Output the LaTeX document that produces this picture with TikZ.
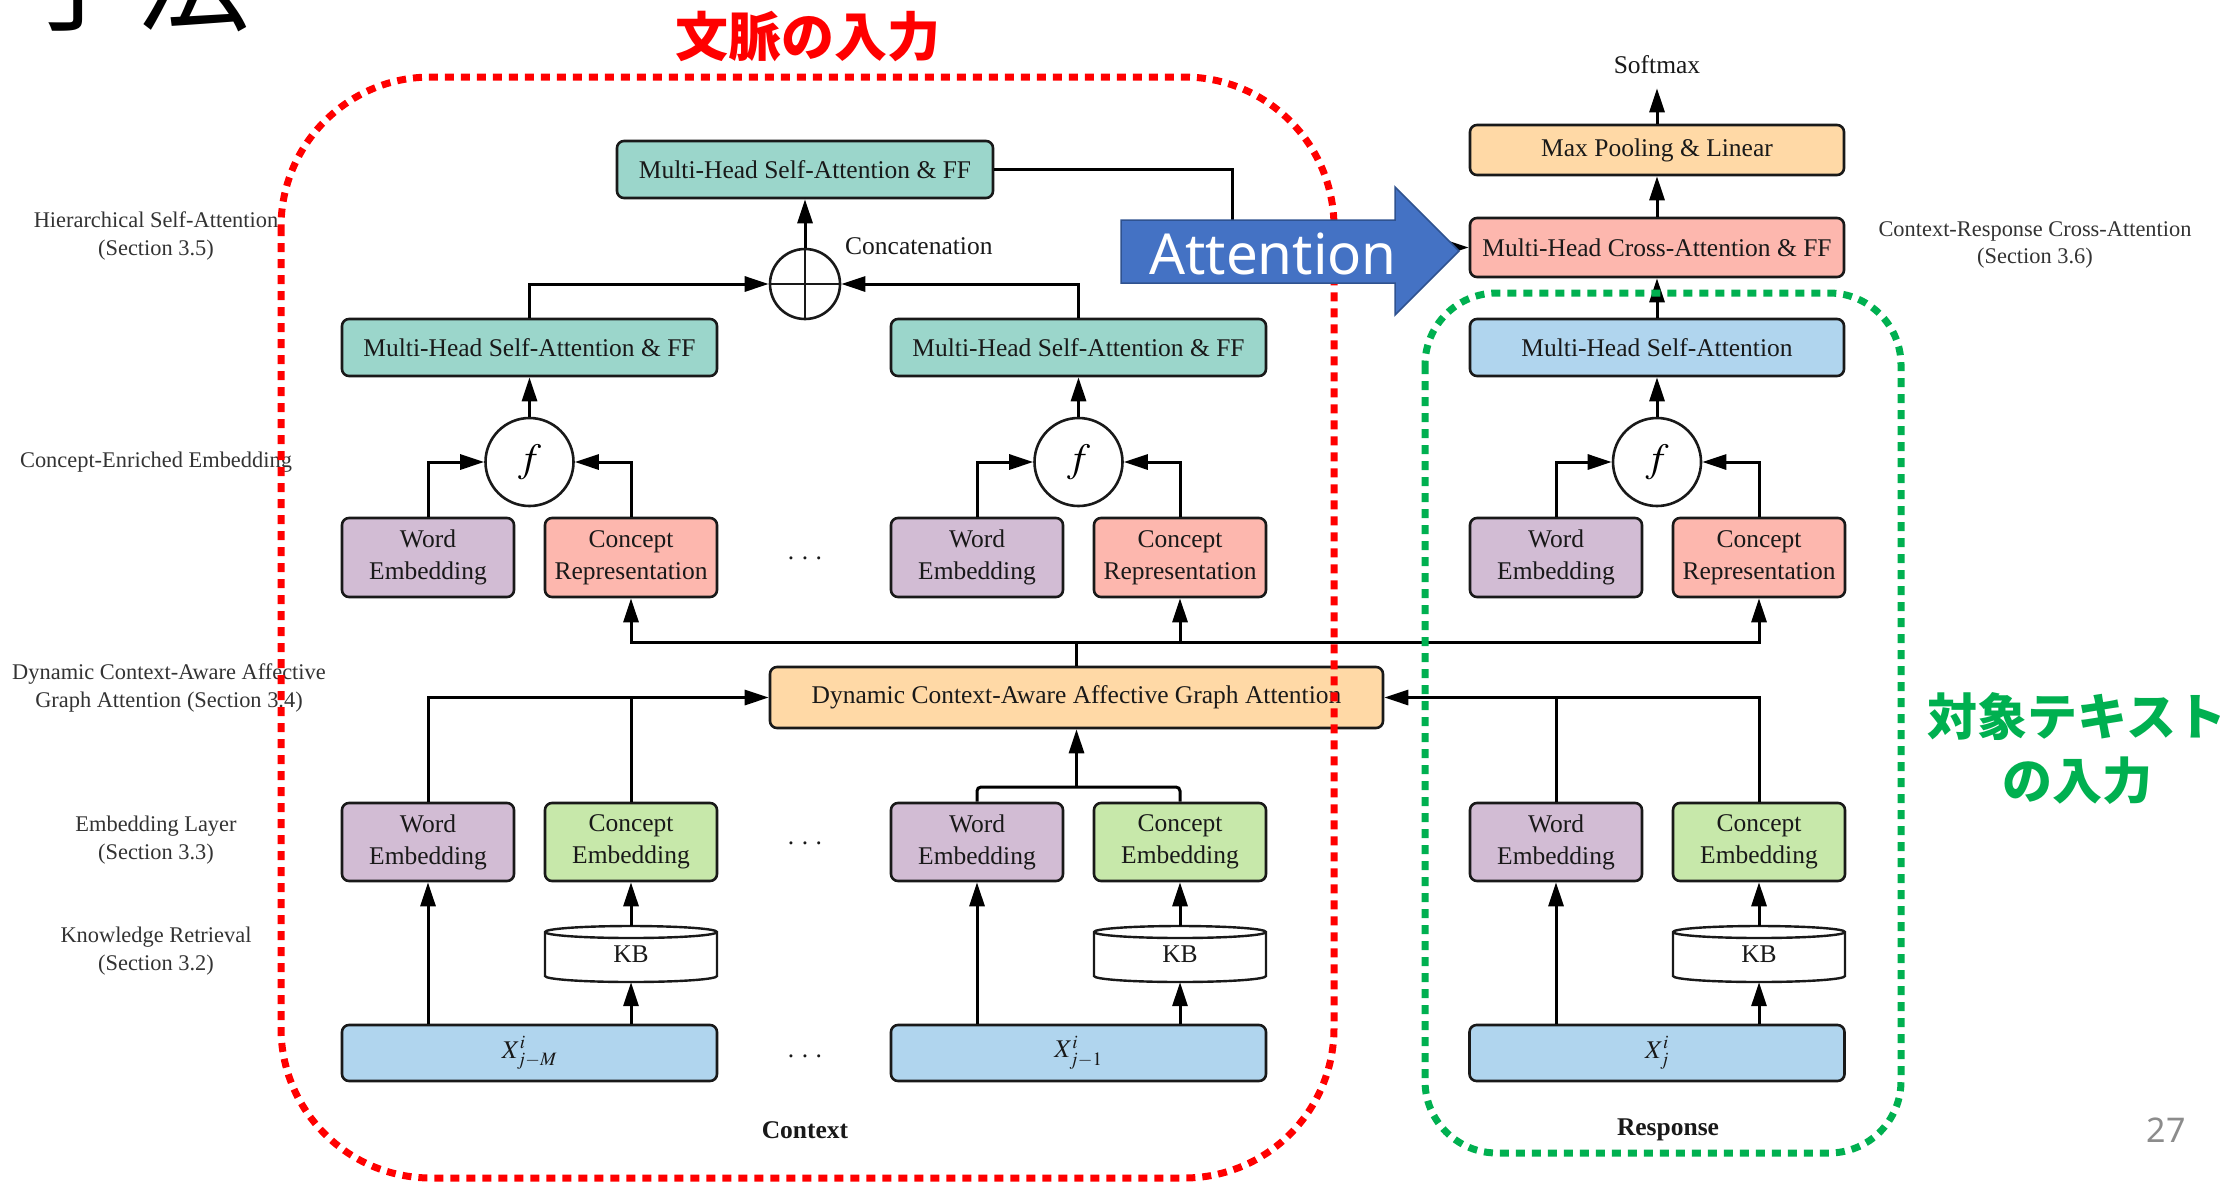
\documentclass[tikz,border=0pt]{standalone}
\usepackage{mathptmx}
\usepackage[no-math]{fontspec}
\setmainfont{Liberation Serif}
\newfontfamily\jpfont{Noto Sans CJK JP}
\newfontfamily\uisans{Noto Sans}
\usetikzlibrary{arrows.meta}

\definecolor{tealc}{HTML}{9BD6CB}
\definecolor{purc}{HTML}{D2BCD4}
\definecolor{salc}{HTML}{FDB7AE}
\definecolor{grnc}{HTML}{C7E8AA}
\definecolor{bluec}{HTML}{B0D5EE}
\definecolor{orgc}{HTML}{FFD9A6}
\definecolor{grn}{HTML}{00B050}
\definecolor{attblue}{HTML}{4472C4}
\definecolor{attedge}{HTML}{2F528F}
\definecolor{pagegray}{HTML}{8C8C8C}

\newcommand\bxfont{\fontsize{25.5}{32}\selectfont}
\newcommand\lbfont{\fontsize{22.4}{27.5}\selectfont}
\newcommand\widedots{.\kern7.5pt.\kern7.5pt.}

% knowledge-base cylinder: #1 = x centre, #2 = node name
\newcommand\kbcyl[2]{%
  \filldraw[fill=white, draw=black!90, line width=2.4pt]
    ({#1-86},932) -- ({#1-86},976)
    arc[start angle=180, end angle=360, x radius=86pt, y radius=6pt]
    -- ({#1+86},932)
    arc[start angle=0, end angle=180, x radius=86pt, y radius=6pt] -- cycle;
  \draw[draw=black!90, line width=2.4pt]
    ({#1-86},932) arc[start angle=180, end angle=360, x radius=86pt, y radius=6pt];
  \node[font=\bxfont, text=black!90, inner sep=0pt, minimum width=172pt,
        minimum height=56pt] (#2) at (#1,954) {\raisebox{-3pt}{KB}};
}

\begin{document}
\begin{tikzpicture}[x=1pt, y=-1pt,
  box/.style={draw=black!90, line width=2.6pt, rounded corners=7pt, inner sep=0pt,
              align=center, text=black!90, font=\bxfont},
  big/.style={box, minimum width=375pt, minimum height=57pt},
  small/.style={box, minimum width=172pt, minimum height=79pt},
  xbox/.style={box, fill=bluec, minimum width=375pt, minimum height=56pt},
  fcirc/.style={draw=black!90, circle, line width=2.6pt, minimum size=88pt, inner sep=0pt,
                fill=white, font=\fontsize{40}{40}\selectfont},
  conn/.style={line width=3pt, draw=black},
  arr/.style={conn, -{Triangle[length=24pt, width=15pt]}},
  lbl/.style={font=\lbfont, text=black!80, align=center, inner sep=0pt},
  plain/.style={font=\bxfont, text=black!90, inner sep=0pt},
  reddots/.style={draw=red, line width=7pt, dash pattern=on 9pt off 7pt},
  grndots/.style={draw=grn, line width=7pt, dash pattern=on 9pt off 7pt}]

\useasboundingbox (0,0) rectangle (2234,1181);
\fill[white] (0,0) rectangle (2234,1181);

% slide heading and coloured captions
\node[anchor=base west, inner sep=0pt, font=\jpfont\fontsize{115}{115}\selectfont] (title) at (20,22) {手法};
\node[font=\jpfont\bfseries\fontsize{53}{60}\selectfont, text=red, inner sep=0pt] (ctxin) at (808,37) {文脈の入力};
\node[font=\jpfont\bfseries\fontsize{50}{64}\selectfont, text=grn, inner sep=0pt, align=center] (rspin) at (2077,749) {対象テキスト\\の入力};

% stage labels
\node[lbl] (l1) at (156,236) {Hierarchical Self-Attention\\(Section 3.5)};
\node[lbl] (l2) at (156,462) {Concept-Enriched Embedding};
\node[lbl] (l3) at (169,688) {Dynamic Context-Aware Affective\\Graph Attention (Section 3.4)};
\node[lbl] (l4) at (156,840) {Embedding Layer\\(Section 3.3)};
\node[lbl] (l5) at (156,951) {Knowledge Retrieval\\(Section 3.2)};
\node[lbl] (l6) at (2035,245) {Context-Response Cross-Attention\\(Section 3.6)};

% hierarchical self-attention
\node[big, fill=tealc, minimum width=376pt] (mhtop) at (805,169.5) {Multi-Head Self-Attention \& FF};
\node[draw=black!90, circle, line width=2.6pt, minimum size=70pt, inner sep=0pt] (cat) at (805,284) {};
\draw[line width=2.2pt, black!90] (cat.north) -- (cat.south) (cat.west) -- (cat.east);
\node[plain, anchor=west] (catlbl) at (845,246) {Concatenation};
\node[big, fill=tealc] (mh1) at (529.5,347.5) {Multi-Head Self-Attention \& FF};
\node[big, fill=tealc] (mh2) at (1078.5,347.5) {Multi-Head Self-Attention \& FF};

% response head
\node[box, fill=orgc, minimum width=374pt, minimum height=50pt] (pool) at (1657,150) {Max Pooling \& Linear};
\node[box, fill=salc, minimum width=374pt, minimum height=59pt] (cross) at (1657,247.5) {Multi-Head Cross-Attention \& FF};
\node[box, fill=bluec, minimum width=374pt, minimum height=57pt] (mh3) at (1657,347.5) {Multi-Head Self-Attention};
\node[font=\bxfont, text=black!90, inner xsep=0pt, inner ysep=14pt] (soft) at (1657,65) {Softmax};

% concept-enriched embedding
\node[fcirc] (f1) at (529.5,462) {$f$};
\node[fcirc] (f2) at (1078.5,462) {$f$};
\node[fcirc] (f3) at (1657,462) {$f$};
\node[small, fill=purc] (wd1) at (428,557.5) {Word\\Embedding};
\node[small, fill=salc] (cr1) at (631,557.5) {Concept\\Representation};
\node[small, fill=purc] (wd2) at (977,557.5) {Word\\Embedding};
\node[small, fill=salc] (cr2) at (1180,557.5) {Concept\\Representation};
\node[small, fill=purc] (wd3) at (1556,557.5) {Word\\Embedding};
\node[small, fill=salc] (cr3) at (1759,557.5) {Concept\\Representation};
\node[plain] (d1) at (805,558) {\widedots};

% graph attention
\node[box, fill=orgc, minimum width=613pt, minimum height=61pt] (dyn) at (1076.5,697.5) {Dynamic Context-Aware Affective Graph Attention};

% embedding layer
\node[small, fill=purc, minimum height=78pt] (we1) at (428,842) {Word\\Embedding};
\node[small, fill=grnc, minimum height=78pt] (ce1) at (631,842) {Concept\\Embedding};
\node[small, fill=purc, minimum height=78pt] (we2) at (977,842) {Word\\Embedding};
\node[small, fill=grnc, minimum height=78pt] (ce2) at (1180,842) {Concept\\Embedding};
\node[small, fill=purc, minimum height=78pt] (we3) at (1556,842) {Word\\Embedding};
\node[small, fill=grnc, minimum height=78pt] (ce3) at (1759,842) {Concept\\Embedding};
\node[plain] (d2) at (805,843) {\widedots};

% knowledge retrieval
\kbcyl{631}{kb1}
\kbcyl{1180}{kb2}
\kbcyl{1759}{kb3}

% inputs
\node[xbox] (x1) at (529.5,1053) {$X^{i}_{j-M}$};
\node[xbox] (x2) at (1078.5,1053) {$X^{i}_{j-1}$};
\node[xbox] (x3) at (1657,1053) {$X^{i}_{j}$};
\node[plain] (d3) at (805,1056) {\widedots};
\node[plain, font=\bxfont\bfseries] (ctxlbl) at (805,1130) {Context};
\node[plain, font=\bxfont\bfseries] (rsplbl) at (1668,1130) {Response};
\node[font=\uisans\fontsize{34}{34}\selectfont, text=pagegray, inner sep=0pt] (pg) at (2166,1130) {27};

% helper coordinates
\coordinate (busy) at (0,642);
\coordinate (j2) at (1076.5,787);
\coordinate (tx) at (1232,0);

% inputs -> embeddings / knowledge base
\foreach \i in {1,2,3} {
  \draw[arr] (x\i.north -| we\i) -- (we\i.south);
  \draw[arr] (x\i.north -| kb\i) -- (kb\i.south);
  \draw[arr] (kb\i.north) -- (ce\i.south);
}

% embeddings -> graph attention
\draw[conn] (ce1.north) -- (ce1.north |- dyn.west);
\draw[arr] (we1.north) |- (dyn.west);
\draw[conn, rounded corners=4pt] (we2.north) |- (j2) -| (ce2.north);
\draw[arr] (j2) -- (dyn.south);
\draw[conn] (we3.north) -- (we3.north |- dyn.east);
\draw[arr] (ce3.north) |- (dyn.east);

% graph attention -> concept representations
\draw[conn] (dyn.north) -- (dyn.north |- busy);
\draw[arr] (dyn.north |- busy) -| (cr1.south);
\draw[arr] (dyn.north |- busy) -| (cr3.south);
\draw[arr] (cr2.south |- busy) -- (cr2.south);

% fusion and utterance-level attention
\foreach \i in {1,2,3} {
  \draw[arr] (wd\i.north) |- (f\i.west);
  \draw[arr] (cr\i.north) |- (f\i.east);
  \draw[arr] (f\i.north) -- (mh\i.south);
}
\draw[arr] (mh1.north) |- (cat.west);
\draw[arr] (mh2.north) |- (cat.east);
\draw[arr] (cat.north) -- (mhtop.south);

% context -> cross-attention, response head
\draw[arr] (mhtop.east) -- (mhtop.east -| tx) |- (cross.west);
\draw[arr] (mh3.north) -- (cross.south);
\draw[arr] (cross.north) -- (pool.south);
\draw[arr] (pool.north) -- (soft.south);

% dotted group outlines
\draw[reddots, rounded corners=150pt] (281,77) rectangle (1334,1178);
\draw[grndots, rounded corners=72pt] (1425,293) rectangle (1901,1153);

% block arrow
\filldraw[fill=attblue, draw=attedge, line width=1.5pt]
  (1121,220) -- (1395,220) -- (1395,187) -- (1459,251) -- (1395,315) -- (1395,283) -- (1121,283) -- cycle;
\node[font=\uisans\fontsize{56.5}{56.5}\selectfont, text=white, inner sep=0pt] (att) at (1273,254) {Attention};

\end{tikzpicture}
\end{document}
